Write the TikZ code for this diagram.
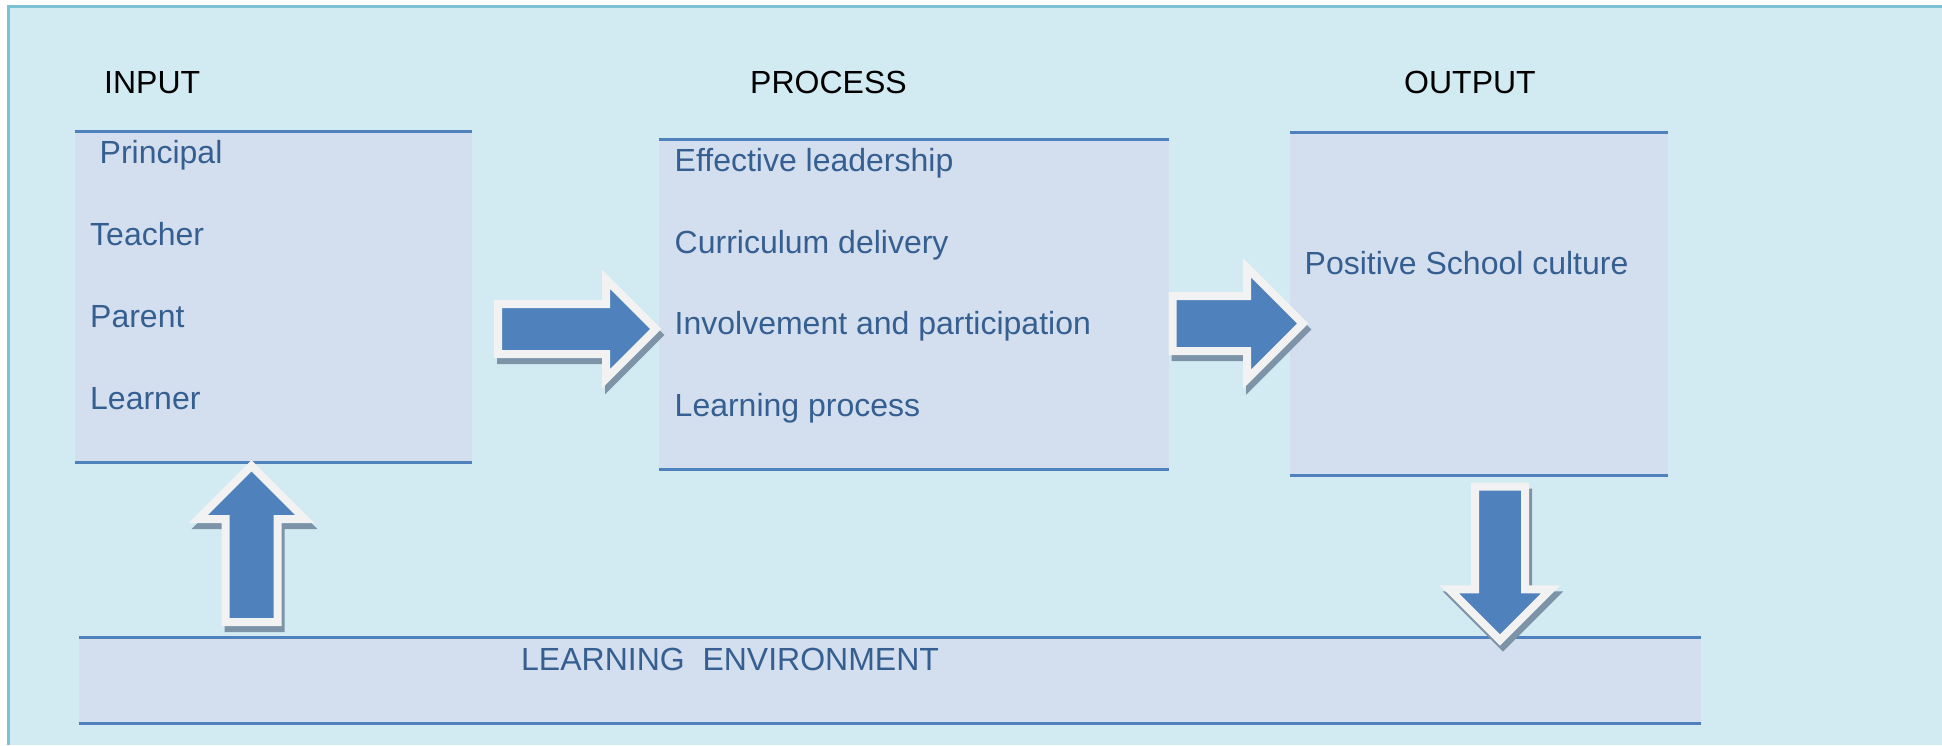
\documentclass[tikz,border=0pt]{standalone}
\usepackage{fontspec}
\setmainfont{Liberation Sans}
\definecolor{canvasblue}{HTML}{D2EAF1}
\definecolor{framecol}{HTML}{7CC1D4}
\definecolor{boxfill}{HTML}{D3DFEE}
\definecolor{rulecol}{HTML}{4F81BD}
\definecolor{txtblue}{HTML}{365F91}
\definecolor{arrowblue}{HTML}{4F81BD}
\definecolor{arrowrim}{HTML}{F2F2F2}
\definecolor{arrowshade}{HTML}{7C93A8}
\tikzset{
  panel/.style={rectangle, fill=boxfill, draw=none, inner sep=0pt},
  rule/.style={draw=rulecol, line width=3pt},
  itemtxt/.style={anchor=base west, inner sep=0pt, text=txtblue, font=\fontsize{32}{38}\selectfont},
  headtxt/.style={anchor=base west, inner sep=0pt, text=black, font=\fontsize{32}{38}\selectfont},
}
% block arrow: #1 tail point, #2 direction angle, #3 length, #4 shaft half width, #5 head half width
\newcommand\blockarrow[5]{%
  \begin{scope}[xshift=3pt, yshift=-6pt, shift={#1}, rotate=#2]
    \filldraw[fill=arrowshade, draw=arrowshade, line width=8pt, line join=miter]
      (0,-#4) -- ({#3-#5},-#4) -- ({#3-#5},-#5) -- (#3,0) -- ({#3-#5},#5) -- ({#3-#5},#4) -- (0,#4) -- cycle;
  \end{scope}
  \begin{scope}[shift={#1}, rotate=#2]
    \filldraw[fill=arrowblue, draw=arrowrim, line width=8pt, line join=miter]
      (0,-#4) -- ({#3-#5},-#4) -- ({#3-#5},-#5) -- (#3,0) -- ({#3-#5},#5) -- ({#3-#5},#4) -- (0,#4) -- cycle;
  \end{scope}}
\begin{document}
\begin{tikzpicture}[x=1pt, y=-1pt]
  \useasboundingbox (0,0) rectangle (1942,745);
  % page and framed panel
  \fill[white] (0,0) rectangle (1942,745);
  \fill[canvasblue] (7,5) rectangle (1942,745);
  \draw[framecol, line width=3pt] (8.5,745) -- (8.5,6.5) -- (1942,6.5);

  % headings
  \node[headtxt] (hin)   at (104,93)  {INPUT};
  \node[headtxt] (hproc) at (750,93)  {PROCESS};
  \node[headtxt] (hout)  at (1404,93) {OUTPUT};

  % panels
  \node[panel, minimum width=397pt, minimum height=330.3pt] (inbox)   at (273.5,296.85) {};
  \node[panel, minimum width=510pt, minimum height=330pt]   (procbox) at (914,304.5) {};
  \node[panel, minimum width=378pt, minimum height=342pt]   (outbox)  at (1479,304) {};
  \node[panel, minimum width=1622pt, minimum height=85pt]   (envbox)  at (890,680.5) {};
  \foreach \b in {inbox, procbox, outbox, envbox}{
    \draw[rule] (\b.north west) -- (\b.north east);
    \draw[rule] (\b.south west) -- (\b.south east);
  }

  % input items
  \node[itemtxt] (tprin) at (99.5,163)  {Principal};
  \node[itemtxt] (tteac) at (90,245)  {Teacher};
  \node[itemtxt] (tpare) at (90,327)  {Parent};
  \node[itemtxt] (tlear) at (90,409)  {Learner};

  % process items
  \node[itemtxt] (tlead) at (674.5,171) {Effective leadership};
  \node[itemtxt] (tcurr) at (674.5,253) {Curriculum delivery};
  \node[itemtxt] (tinv)  at (674.5,334) {Involvement and participation};
  \node[itemtxt] (tlp)   at (674.5,416) {Learning process};

  % output item
  \node[itemtxt] (tpos) at (1304.5,274) {Positive School culture};

  % environment band
  \node[itemtxt] (tenv) at (521,670) {LEARNING\ \ ENVIRONMENT};

  % flow arrows
  \blockarrow{(498,329)}{0}{157.7}{25}{49.7}
  \blockarrow{(1172.5,323.5)}{0}{130.2}{27.5}{55.7}
  \blockarrow{(251.5,622)}{90}{156.2}{26}{53.2}
  \blockarrow{(1500,486.7)}{-90}{153.3}{25}{50.7}
\end{tikzpicture}
\end{document}
